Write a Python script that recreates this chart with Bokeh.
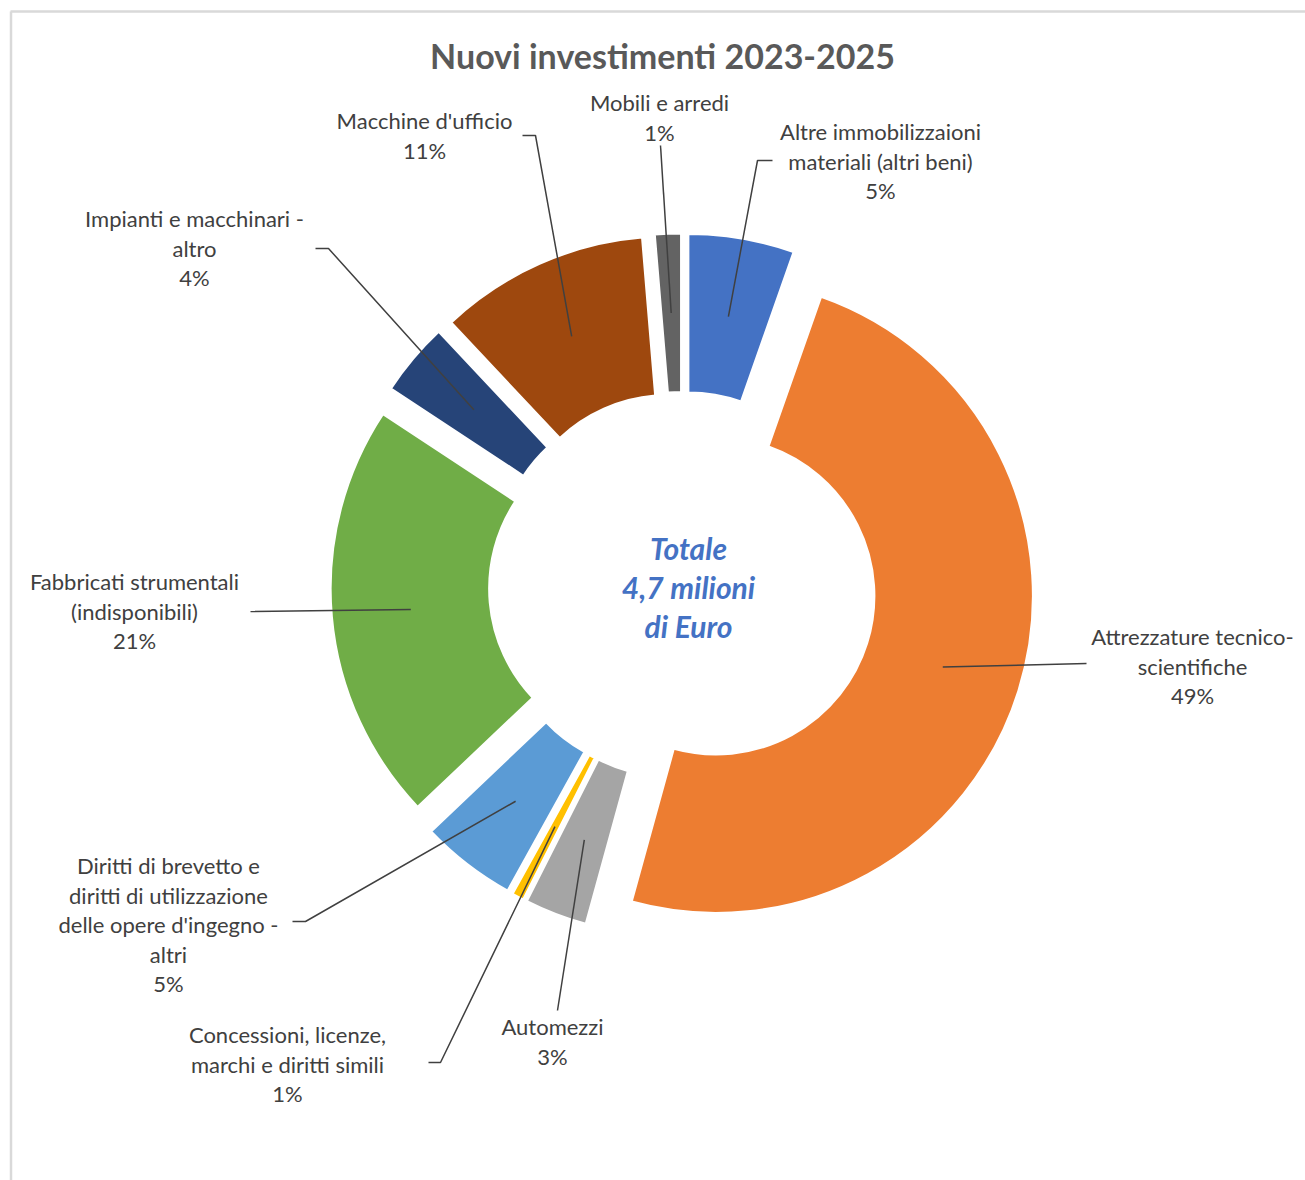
import math
from bokeh.plotting import figure
from bokeh.models import Range1d, ColumnDataSource
from bokeh.core.properties import value
from bokeh.embed import file_html
from bokeh.resources import INLINE

# ---------------- data ----------------
categories = [
    "Altre immobilizzaioni materiali (altri beni)",
    "Attrezzature tecnico-scientifiche",
    "Automezzi",
    "Concessioni, licenze, marchi e diritti simili",
    "Diritti di brevetto e diritti di utilizzazione delle opere d'ingegno - altri",
    "Fabbricati strumentali (indisponibili)",
    "Impianti e macchinari - altro",
    "Macchine d'ufficio",
    "Mobili e arredi",
]
values_keur = [253, 2298, 149, 28, 229, 1004, 175, 502, 62]
label_lines = [
    ["Altre immobilizzaioni", "materiali (altri beni)"],
    ["Attrezzature tecnico-", "scientifiche"],
    ["Automezzi"],
    ["Concessioni, licenze,", "marchi e diritti simili"],
    ["Diritti di brevetto e", "diritti di utilizzazione", "delle opere d'ingegno -", "altri"],
    ["Fabbricati strumentali", "(indisponibili)"],
    ["Impianti e macchinari -", "altro"],
    ["Macchine d'ufficio"],
    ["Mobili e arredi"],
]
title_text = "Nuovi investimenti 2023-2025"
center_lines = ["Totale", "4,7 milioni", "di Euro"]

# ---------------- style / layout ----------------
colors = ["#4472C4", "#ED7D31", "#A5A5A5", "#FFC000", "#5B9BD5",
          "#70AD47", "#264478", "#9E480E", "#636363"]
CX, CY = 682, 585          # screen px
R_OUT, R_IN = 317, 158.5
EXPLODE = 35
R_MID = (R_OUT + R_IN) / 2
LINE_H = 29.5
FONT = "Lato"
label_pos = [(880, 131), (1192, 636), (552, 1026), (287, 1034), (168, 865),
             (134, 581), (194, 218), (424, 120), (659, 102)]
leader_ends = [
    [(757, 160), (772, 160)],
    [(1086, 663)],
    [(557, 1010)],
    [(440, 1062), (428, 1062)],
    [(305, 921), (292, 921)],
    [(250, 611)],
    [(328, 248), (315, 248)],
    [(535, 135), (522, 135)],
    [(660, 145)],
]

W, H = 1305, 1180
p = figure(width=W, height=H, x_range=Range1d(0, W), y_range=Range1d(-H, 0),
           output_backend="svg", toolbar_location=None, x_axis_type=None, y_axis_type=None,
           min_border=0, min_border_left=0, min_border_right=0, min_border_top=0,
           min_border_bottom=0)
p.outline_line_color = None
p.grid.visible = False
p.background_fill_color = "white"
p.border_fill_color = "white"

# chart border (Excel chart area)
p.multi_line(xs=[[10.5, 10.5], [10, 1305]], ys=[[-1180, -11], [-11, -11]],
             line_color="#D9D9D9", line_width=2.5)

total = sum(values_keur)
wx, wy, sa, ea, lxs, lys = [], [], [], [], [], []
cum = 0.0
for i, v in enumerate(values_keur):
    th0 = cum / total * 360.0
    cum += v
    th1 = cum / total * 360.0
    mid = math.radians((th0 + th1) / 2)
    cx = CX + EXPLODE * math.sin(mid)
    cy = CY - EXPLODE * math.cos(mid)
    wx.append(cx)
    wy.append(-cy)
    sa.append(math.radians(90 - th1))
    ea.append(math.radians(90 - th0))
    sx = cx + R_MID * math.sin(mid)
    sy = cy - R_MID * math.cos(mid)
    pts = [(sx, sy)] + leader_ends[i]
    lxs.append([q[0] for q in pts])
    lys.append([-q[1] for q in pts])

src = ColumnDataSource(dict(x=wx, y=wy, sa=sa, ea=ea, color=colors, cat=categories))
p.annular_wedge(x="x", y="y", inner_radius=R_IN, outer_radius=R_OUT,
                start_angle="sa", end_angle="ea", fill_color="color",
                line_color="white", line_width=2, source=src)

p.multi_line(xs=lxs, ys=lys, line_color="#404040", line_width=1.5)

# data labels
tx, ty, tt = [], [], []
for i, lines in enumerate(label_lines):
    pct = f"{round(values_keur[i] / total * 100)}%"
    all_lines = lines + [pct]
    x0, y0 = label_pos[i]
    for k, s in enumerate(all_lines):
        tx.append(x0)
        ty.append(-(y0 + k * LINE_H))
        tt.append(s)
p.text(x=tx, y=ty, text=tt, text_align="center", text_baseline="middle",
       text_font=value(FONT), text_font_size="22px", text_color="#404040")

# center text
p.text(x=[688] * 3, y=[-547, -586, -625], text=center_lines, text_align="center",
       text_baseline="middle", text_font=value(FONT), text_font_size="30px",
       text_font_style="bold italic", text_color="#4472C4")

# title
p.text(x=[662], y=[-55], text=[title_text], text_align="center", text_baseline="middle",
       text_font=value(FONT), text_font_size="34px", text_font_style="bold",
       text_color="#595959")

open("out.html", "w").write(file_html(p, INLINE))
